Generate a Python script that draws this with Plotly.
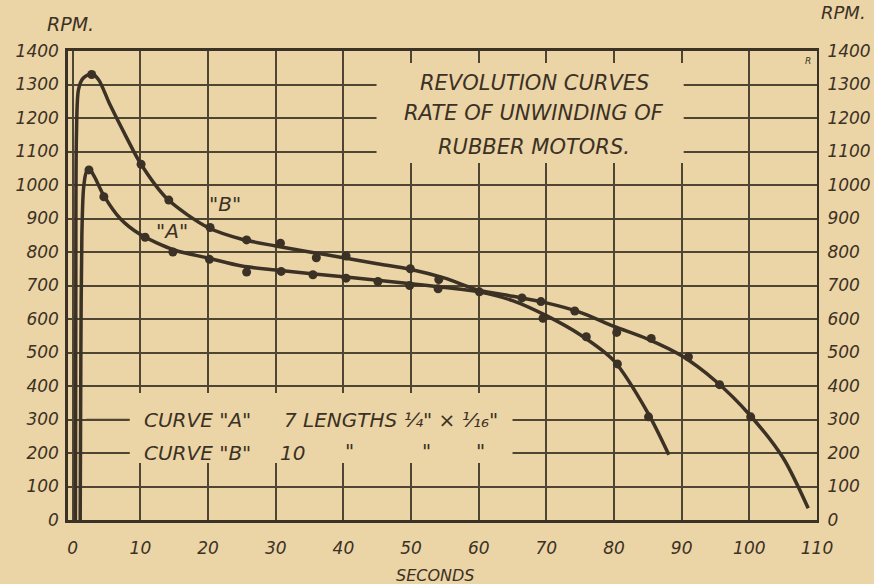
import plotly.graph_objects as go

# ---------------- data ----------------
x_ticks = [0, 10, 20, 30, 40, 50, 60, 70, 80, 90, 100, 110]
y_ticks = [0, 100, 200, 300, 400, 500, 600, 700, 800, 900, 1000, 1100, 1200, 1300, 1400]

# smooth drawn curves (traced)
curveA_x = [1.1, 1.2, 1.35, 1.6, 2.0, 2.5, 3.2, 4.6, 7, 10, 15, 20, 25, 30, 40, 50, 55, 60, 65, 70, 75, 80, 85, 88.1]
curveA_y = [0, 500, 850, 990, 1038, 1046, 1025, 968, 900, 852, 806, 782, 758, 746, 726, 705, 694, 681, 655, 610, 553, 475, 320, 195]

curveB_x = [0.4, 0.45, 0.55, 0.85, 1.5, 2.8, 3.8, 5.5, 8, 10, 14, 20, 25, 30, 35, 40, 45, 50, 55, 60, 65, 70, 75, 80, 85, 90, 95, 100, 105, 108.7]
curveB_y = [0, 600, 1150, 1285, 1318, 1332, 1315, 1240, 1140, 1065, 958, 873, 838, 818, 800, 783, 765, 748, 722, 686, 668, 648, 620, 578, 540, 490, 415, 315, 185, 35]

# measured points
pointsA_x = [2.4, 4.6, 10.7, 14.8, 20.2, 25.7, 30.8, 35.5, 40.4, 45.1, 49.8, 54.0, 69.5, 75.9, 80.5, 85.1]
pointsA_y = [1045, 965, 844, 800, 778, 740, 742, 732, 722, 712, 700, 690, 602, 547, 466, 308]

pointsB_x = [2.8, 10.1, 14.2, 20.3, 25.7, 30.7, 36.0, 40.4, 49.9, 54.1, 60.1, 66.4, 69.2, 74.2, 80.4, 85.5, 91.0, 95.6, 100.2]
pointsB_y = [1330, 1062, 955, 873, 836, 826, 783, 788, 750, 718, 681, 663, 652, 624, 560, 542, 487, 404, 308]

title_lines = ["REVOLUTION CURVES", "RATE OF UNWINDING OF", "RUBBER MOTORS."]

# ---------------- style ----------------
BG = "#ebd4a6"
INK = "#3b3124"
GRID = "#4f4533"
FONT = "DejaVu Sans"

fig = go.Figure()

fig.add_trace(go.Scatter(x=curveA_x, y=curveA_y, mode="lines",
                         line=dict(color=INK, width=3.5, shape="spline", smoothing=0.8),
                         hoverinfo="skip", showlegend=False))
fig.add_trace(go.Scatter(x=pointsA_x, y=pointsA_y, mode="markers",
                         marker=dict(color=INK, size=9), showlegend=False))
fig.add_trace(go.Scatter(x=curveB_x, y=curveB_y, mode="lines", yaxis="y2",
                         line=dict(color=INK, width=3.5, shape="spline", smoothing=0.8),
                         hoverinfo="skip", showlegend=False))
fig.add_trace(go.Scatter(x=pointsB_x, y=pointsB_y, mode="markers", yaxis="y2",
                         marker=dict(color=INK, size=9), showlegend=False))

tickfont = dict(family=FONT, size=17, color=INK, style="italic")

fig.update_layout(
    width=874, height=584,
    margin=dict(l=68, r=57, t=51, b=64),
    paper_bgcolor=BG, plot_bgcolor=BG,
    font=dict(family=FONT, color=INK, style="italic"),
    xaxis=dict(range=[-0.7, 110], tickvals=x_ticks, ticktext=[str(v) for v in x_ticks],
               showgrid=True, gridcolor=GRID, gridwidth=1.5, zeroline=False,
               showline=True, linecolor=INK, linewidth=3, mirror=True, automargin=False,
               ticks="", ticklabelstandoff=11, tickfont=tickfont),
    yaxis=dict(range=[0, 1400], tickvals=y_ticks, ticktext=[str(v) for v in y_ticks],
               showgrid=True, gridcolor=GRID, gridwidth=1.5, zeroline=False,
               showline=True, linecolor=INK, linewidth=2.5, automargin=False,
               ticks="", ticklabelstandoff=3, tickfont=tickfont),
    yaxis2=dict(overlaying="y", side="right", range=[0, 1400], tickvals=y_ticks,
                ticktext=[str(v) for v in y_ticks], showgrid=False, zeroline=False,
                showline=True, linecolor=INK, linewidth=2, automargin=False,
                ticks="", ticklabelstandoff=5, tickfont=tickfont),
)

# masks where the lettering interrupts the grid
fig.add_shape(type="rect", xref="x", yref="y", x0=44.9, x1=90.3, y0=1066, y1=1364,
              fillcolor=BG, line=dict(width=0), layer="between")
fig.add_shape(type="rect", xref="x", yref="y", x0=8.4, x1=65.0, y0=170, y1=379,
              fillcolor=BG, line=dict(width=0), layer="between")
# short stubs in front of legend lines
for yv in (300, 200):
    fig.add_shape(type="line", xref="x", yref="y", x0=2.0, x1=8.4, y0=yv, y1=yv,
                  line=dict(color=GRID, width=1.5), layer="between")

ann = []
ty = [1304, 1214, 1112]
for t, yv in zip(title_lines, ty):
    ann.append(dict(x=68.2, y=yv, xref="x", yref="y", text=t, showarrow=False,
                    font=dict(family=FONT, size=21, color=INK, style="italic")))

lf = dict(family=FONT, size=20, color=INK, style="italic")
ann += [
    dict(x=10.2, y=300, xref="x", yref="y", text='CURVE "A"', xanchor="left", showarrow=False, font=lf),
    dict(x=30.9, y=300, xref="x", yref="y", text='7 LENGTHS ¼" × ¹⁄₁₆"', xanchor="left", showarrow=False, font=lf),
    dict(x=10.2, y=200, xref="x", yref="y", text='CURVE "B"', xanchor="left", showarrow=False, font=lf),
    dict(x=30.3, y=200, xref="x", yref="y", text='10', xanchor="left", showarrow=False, font=lf),
    dict(x=40.9, y=205, xref="x", yref="y", text='"', showarrow=False, font=lf),
    dict(x=52.3, y=205, xref="x", yref="y", text='"', showarrow=False, font=lf),
    dict(x=60.3, y=205, xref="x", yref="y", text='"', showarrow=False, font=lf),
    dict(x=14.6, y=862, xref="x", yref="y", text='"A"', showarrow=False, font=lf),
    dict(x=22.5, y=942, xref="x", yref="y", text='"B"', showarrow=False, font=lf),
    dict(x=-0.031, y=1.0, xref="paper", yref="paper", yanchor="bottom", yshift=14,
         text="RPM.", showarrow=False, font=dict(family=FONT, size=19, color=INK, style="italic")),
    dict(x=1.0, y=1.0, xref="paper", yref="paper", xanchor="left", yanchor="bottom", yshift=26, xshift=2,
         text="RPM.", showarrow=False, font=dict(family=FONT, size=18, color=INK, style="italic")),
    dict(x=108.6, y=1370, xref="x", yref="y", text="R", showarrow=False,
         font=dict(family=FONT, size=9, color=INK, style="italic")),
    dict(x=0.49, y=0, xref="paper", yref="paper", yanchor="top", yshift=-44,
         text="SECONDS", showarrow=False, font=dict(family=FONT, size=16, color=INK, style="italic")),
]
fig.update_layout(annotations=ann)

fig.write_html("out.html", config={"displayModeBar": False},
               post_script="document.body.style.margin='0';document.body.style.background='%s';" % BG)
